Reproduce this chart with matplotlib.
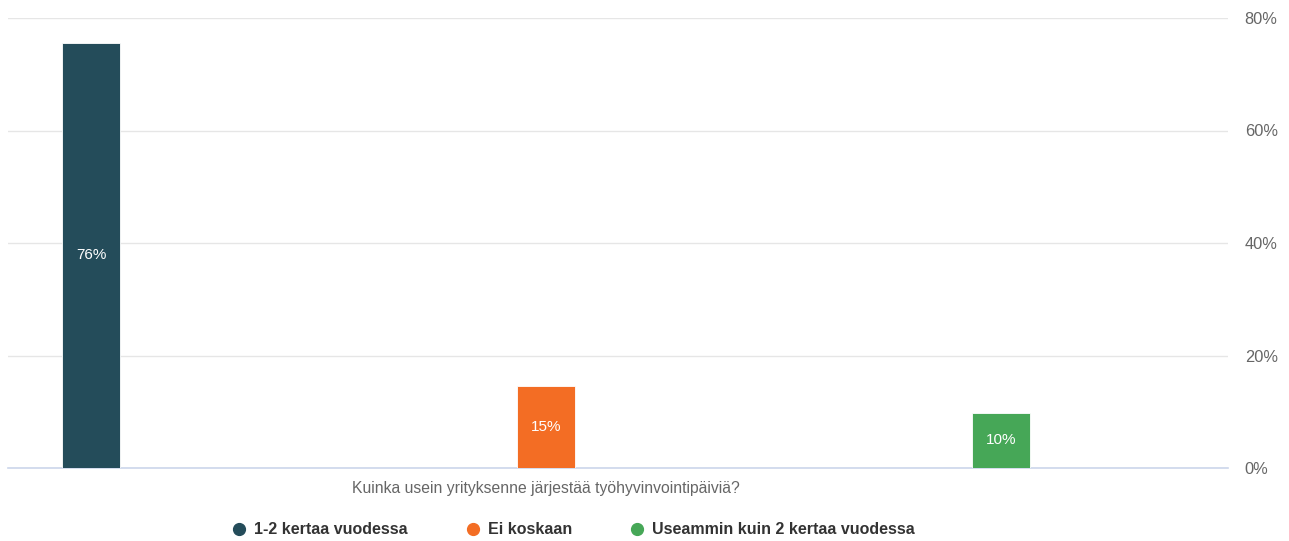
import matplotlib
matplotlib.use("Agg")
import matplotlib.pyplot as plt
from matplotlib.lines import Line2D
from matplotlib.transforms import blended_transform_factory

plt.rcParams['font.family'] = ['Liberation Sans', 'DejaVu Sans']

series = ["1-2 kertaa vuodessa", "Ei koskaan", "Useammin kuin 2 kertaa vuodessa"]
values = [75.6, 14.6, 9.8]
colors = ["#244c5a", "#f36d24", "#46a757"]
yticks = [0, 20, 40, 60, 80]
ytick_labels = ["0%", "20%", "40%", "60%", "80%"]
category_title = "Kuinka usein yrityksenne järjestää työhyvinvointipäiviä?"

W, H = 1289, 541
fig = plt.figure(figsize=(W / 100, H / 100), dpi=100)
ax = fig.add_axes([8 / W, (H - 468) / H, (1228 - 8) / W, (468 - 18) / H])

xs = list(range(len(values)))
bars = ax.bar(xs, values, width=58 / 455, color=colors, edgecolor="white",
              linewidth=0.6, zorder=3)
ax.bar_label(bars, labels=[f"{v:.0f}%" for v in values], label_type="center",
             color="white", fontsize=11, zorder=4)

ax.set_xlim(-(91 - 8) / 455, 2 + (1228 - 1001) / 455)
ax.set_ylim(0, 80)
ax.set_yticks(yticks)
ax.set_yticklabels(ytick_labels)
ax.yaxis.tick_right()
ax.tick_params(axis="y", length=0, pad=12, labelsize=11.8, labelcolor="#666666")
ax.set_xticks([])
for s in ["top", "left", "right"]:
    ax.spines[s].set_visible(False)
ax.spines["bottom"].set_color("#ccd6eb")
ax.spines["bottom"].set_linewidth(1.2)
ax.grid(axis="y", color="#e6e6e6", linewidth=1.0, zorder=0)

tr = blended_transform_factory(ax.transData, fig.transFigure)
ax.text(1, (H - 488) / H, category_title, transform=tr, ha="center",
        va="center", fontsize=11.3, color="#666666")

handles = [Line2D([], [], marker="o", linestyle="none", markersize=8.5,
                  markerfacecolor=c, markeredgecolor=c) for c in colors]
fig.legend(handles, series, loc="center", bbox_to_anchor=(574 / W, (H - 530) / H),
           ncol=3, frameon=False, handlelength=0.8, handletextpad=0.54,
           columnspacing=3.67, prop={"weight": "bold", "size": 11.5},
           labelcolor="#333333", borderpad=0, borderaxespad=0)

fig.savefig("out.png", dpi=100)
